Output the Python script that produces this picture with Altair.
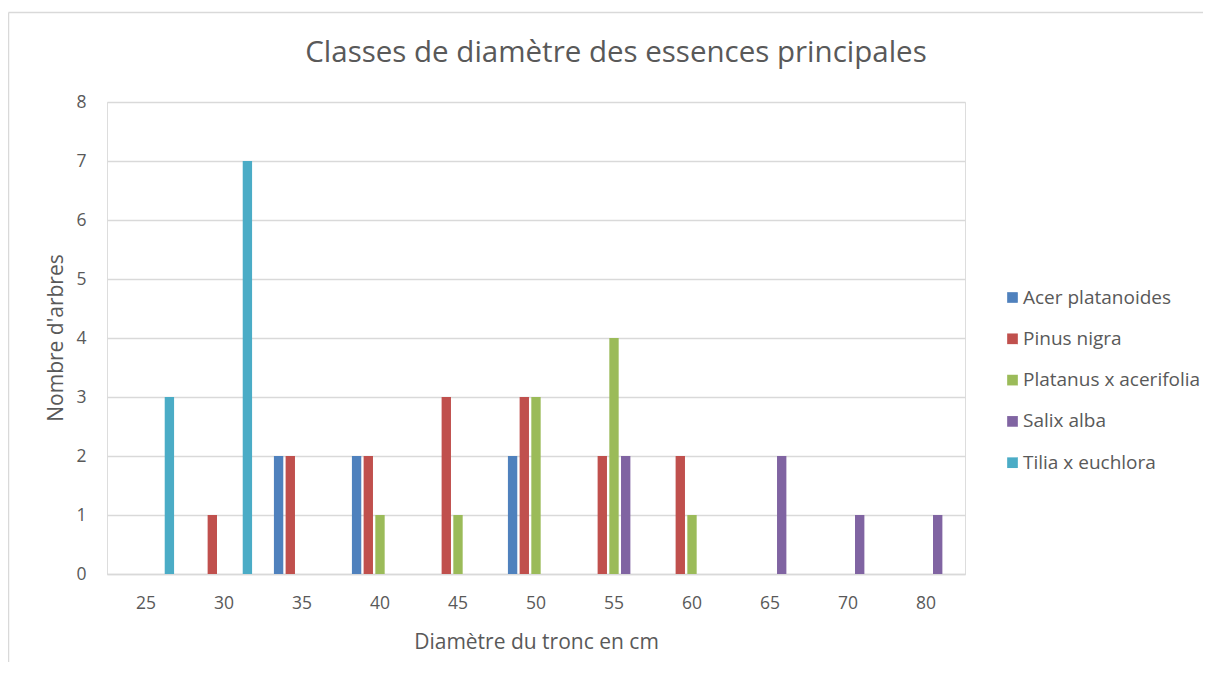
import altair as alt
import pandas as pd

categories = ["25", "30", "35", "40", "45", "50", "55", "60", "65", "70", "80"]
species = ["Acer platanoides", "Pinus nigra", "Platanus x acerifolia", "Salix alba", "Tilia x euchlora"]
colors = ["#4F81BD", "#C0504D", "#9BBB59", "#8064A2", "#4BACC6"]

acer = [0, 0, 2, 2, 0, 2, 0, 0, 0, 0, 0]
pinus = [0, 1, 2, 2, 3, 3, 2, 2, 0, 0, 0]
platanus = [0, 0, 0, 1, 1, 3, 4, 1, 0, 0, 0]
salix = [0, 0, 0, 0, 0, 0, 2, 0, 2, 1, 1]
tilia = [3, 7, 0, 0, 0, 0, 0, 0, 0, 0, 0]

title_text = "Classes de diamètre des essences principales"

series = [acer, pinus, platanus, salix, tilia]
rows = []
for sp, vals in zip(species, series):
    for c, v in zip(categories, vals):
        if v > 0:
            rows.append({"diam": c, "espece": sp, "n": v})
df = pd.DataFrame(rows)

FONT = "Open Sans"
TXT = "#595959"
GRID = "#D9D9D9"

bars = alt.Chart(df).mark_bar().encode(
    x=alt.X("diam:N", sort=categories,
            scale=alt.Scale(domain=categories, paddingInner=0.25, paddingOuter=0.125),
            axis=alt.Axis(title="Diamètre du tronc en cm", labelAngle=0, ticks=False,
                          domain=True, domainColor=GRID, domainWidth=1.5, grid=False,
                          labelFont=FONT, labelFontSize=17.5, labelColor=TXT, labelPadding=20,
                          titleFont=FONT, titleFontSize=21, titleColor=TXT, titleFontWeight="normal",
                          titleY=74, titleBaseline="alphabetic")),
    xOffset=alt.XOffset("espece:N", sort=species,
                        scale=alt.Scale(domain=species, paddingInner=0.2, paddingOuter=0.1)),
    y=alt.Y("n:Q", scale=alt.Scale(domain=[0, 8], nice=False),
            axis=alt.Axis(title="Nombre d'arbres", values=list(range(0, 9)), ticks=False, domain=False,
                          grid=True, gridColor=GRID, gridWidth=1.5,
                          labelFont=FONT, labelFontSize=17.5, labelColor=TXT, labelPadding=21,
                          titleFont=FONT, titleFontSize=21, titleColor=TXT, titleFontWeight="normal",
                          titleX=-45, titleY=235.5, titleAngle=270, titleBaseline="alphabetic",
                          titleAlign="center")),
    color=alt.Color("espece:N", sort=species,
                    scale=alt.Scale(domain=species, range=colors),
                    legend=alt.Legend(title=None, orient="none", legendX=896, legendY=186,
                                      symbolType="square", symbolSize=114, symbolStrokeWidth=0,
                                      labelFont=FONT, labelFontSize=19, labelColor=TXT,
                                      labelLimit=400,
                                      labelOffset=1, rowPadding=21.3, padding=0)),
)

one = alt.Data(values=[{"a": 1}])

top_rule = alt.Chart(one).mark_rule(color=GRID, strokeWidth=1.5).encode(
    x=alt.value(-98.5), x2=alt.value(1096), y=alt.value(-89.5)
)
left_rule = alt.Chart(one).mark_rule(color=GRID, strokeWidth=1.5).encode(
    x=alt.value(-98.5), y=alt.value(-89.5), y2=alt.value(800)
)

title = alt.Chart(one).mark_text(
    font=FONT, fontSize=29.5, color=TXT, align="center", baseline="alphabetic"
).encode(
    x=alt.value(509), y=alt.value(-40), text=alt.value(title_text)
)

chart = alt.layer(top_rule, left_rule, title, bars).properties(
    width=858, height=472,
    autosize=alt.AutoSizeParams(type="none"),
    padding={"left": 99, "top": 94, "right": 238, "bottom": 88},
).configure_view(stroke=None).configure(background="white")

chart.save("out.html", embed_options={"renderer": "svg", "actions": False})
